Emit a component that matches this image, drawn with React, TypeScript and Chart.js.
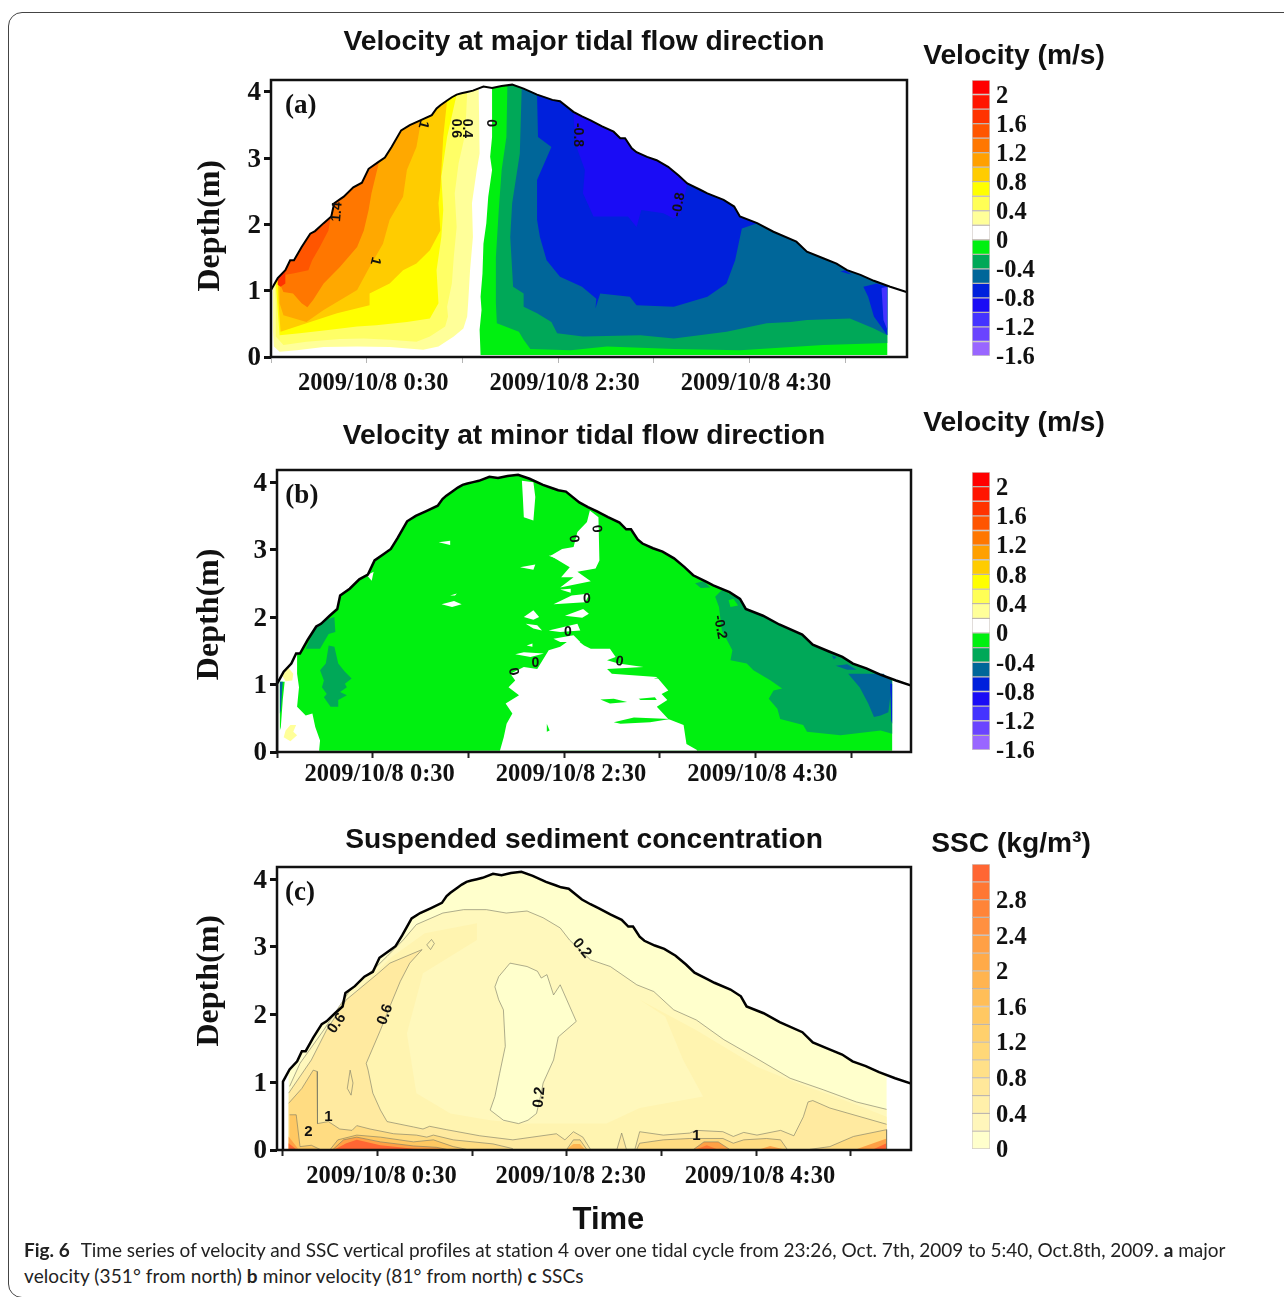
import React, { useEffect, useRef } from "react";
import { Chart, registerables } from "chart.js";

Chart.register(...registerables);

type Pt = [number, number];

// hours since 23:30 / depth in metres
const hourTicks = [0, 1, 2, 3, 4, 5, 6];
const hourLabels = ["", "2009/10/8 0:30", "", "2009/10/8 2:30", "", "2009/10/8 4:30", ""];
const depthTicks = [0, 1, 2, 3, 4];

const waterSurface: Pt[] = [
  [0, 1.01], [0.07, 1.19], [0.15, 1.31], [0.2, 1.46], [0.24, 1.46], [0.32, 1.66], [0.41, 1.86], [0.46, 1.9],
  [0.55, 2.02], [0.63, 2.12], [0.66, 2.32], [0.76, 2.42], [0.86, 2.56], [0.95, 2.63], [1.02, 2.84], [1.12, 2.94],
  [1.19, 3.01], [1.26, 3.17], [1.36, 3.42], [1.45, 3.5], [1.56, 3.57], [1.68, 3.65], [1.73, 3.75], [1.77, 3.8], [1.84, 3.87],
  [1.89, 3.92], [1.94, 3.96], [1.99, 3.98], [2.05, 4.0], [2.11, 4.02], [2.22, 4.08], [2.31, 4.06], [2.41, 4.09], [2.52, 4.11], [2.64, 4.05],
  [2.78, 3.96], [2.88, 3.91], [2.94, 3.88], [3.02, 3.86], [3.16, 3.7], [3.25, 3.63], [3.34, 3.57], [3.46, 3.48], [3.58, 3.4], [3.65, 3.3], [3.7, 3.3],
  [3.77, 3.15], [3.82, 3.09], [3.93, 3.02], [4.03, 2.97], [4.15, 2.87], [4.26, 2.74], [4.35, 2.62], [4.49, 2.52], [4.56, 2.47], [4.73, 2.37], [4.84, 2.27], [4.9, 2.12],
  [5.08, 2.02], [5.25, 1.89], [5.49, 1.74], [5.6, 1.59], [5.77, 1.49], [5.91, 1.41], [6.02, 1.31], [6.16, 1.24], [6.3, 1.15], [6.47, 1.06], [6.64, 0.98],
];

// ---------- panel (a), major velocity: contour band edges under the water surface
const aPos02: Pt[] = [[2.18, 3.07], [2.15, 2.82], [2.1, 2.32], [2.11, 1.81], [2.08, 1.31], [2.06, 0.81], [2.05, 0.61], [2.01, 0.43], [1.91, 0.31], [1.75, 0.16], [1.59, 0.11], [1.24, 0.15], [0.9, 0.16], [0.55, 0.15], [0.27, 0.1], [0.09, 0.08], [0.03, 0.16], [0.02, 0.41]];
const aPos04: Pt[] = [[2.03, 3.37], [1.96, 2.92], [1.92, 2.47], [1.94, 1.96], [1.91, 1.51], [1.89, 1.11], [1.84, 0.76], [1.85, 0.61], [1.82, 0.46], [1.66, 0.31], [1.52, 0.23], [1.24, 0.26], [0.97, 0.28], [0.72, 0.27], [0.37, 0.23], [0.13, 0.18], [0.05, 0.31], [0.05, 0.81]];
const aPos06: Pt[] = [[1.84, 3.32], [1.78, 2.72], [1.8, 2.22], [1.78, 1.81], [1.73, 1.31], [1.75, 0.81], [1.66, 0.58], [1.42, 0.53], [1.1, 0.48], [0.9, 0.46], [0.62, 0.41], [0.3, 0.36], [0.09, 0.33], [0.07, 0.71]];
const aPos08: Pt[] = [[1.8, 3.32], [1.78, 2.82], [1.77, 2.57], [1.75, 2.32], [1.77, 1.91], [1.66, 1.61], [1.52, 1.41], [1.38, 1.31], [1.24, 1.11], [1.03, 0.96], [1.03, 0.78], [0.69, 0.66], [0.37, 0.51], [0.1, 0.38], [0.08, 0.81]];
const aPos10: Pt[] = [[1.52, 3.17], [1.42, 2.82], [1.38, 2.42], [1.24, 2.07], [1.17, 1.71], [1.03, 1.36], [0.9, 1.01], [0.55, 0.71], [0.37, 0.53], [0.13, 0.63], [0.09, 0.81]];
const aPos12: Pt[] = [[1.05, 2.47], [1.02, 2.22], [0.97, 1.91], [0.9, 1.66], [0.72, 1.36], [0.55, 1.11], [0.44, 0.86], [0.38, 0.75], [0.32, 0.81], [0.23, 0.96], [0.13, 0.98], [0.09, 1.11]];
const aPos14: Pt[] = [[0.69, 2.32], [0.63, 2.17], [0.6, 1.91], [0.51, 1.66], [0.43, 1.46], [0.39, 1.31], [0.23, 1.26], [0.15, 1.24]];
const aPos16: Pt[] = [[0.07, 1.19], [0.15, 1.29], [0.15, 1.11], [0.1, 1.06], [0.07, 1.09]];
const aNeg00: Pt[] = [[6.44, 0.03], [2.19, 0.03], [2.18, 0.41], [2.2, 0.71], [2.19, 0.91], [2.21, 1.26], [2.22, 1.71], [2.25, 2.02], [2.27, 2.42], [2.31, 2.82], [2.29, 3.02], [2.31, 3.32]];
const aNeg02: Pt[] = [[6.44, 0.21], [5.77, 0.18], [4.9, 0.1], [4.21, 0.12], [3.51, 0.16], [3.13, 0.1], [2.71, 0.12], [2.64, 0.26], [2.59, 0.38], [2.36, 0.51], [2.35, 0.81], [2.35, 1.51], [2.38, 2.22], [2.41, 2.82], [2.46, 3.32]];
const aNeg04: Pt[] = [[6.44, 0.33], [6.3, 0.43], [6.05, 0.58], [5.6, 0.56], [5.43, 0.53], [5.18, 0.51], [4.76, 0.38], [4.21, 0.28], [3.86, 0.33], [3.26, 0.31], [2.99, 0.36], [2.93, 0.53], [2.78, 0.66], [2.64, 0.76], [2.64, 0.96], [2.53, 1.06], [2.5, 1.81], [2.52, 2.32], [2.6, 3.07]];
const aNeg06: Pt[] = [[4.92, 1.94], [4.85, 1.46], [4.76, 1.11], [4.56, 0.91], [4.21, 0.76], [3.82, 0.78], [3.75, 0.91], [3.44, 0.96], [3.39, 0.73], [3.4, 0.88], [3.25, 1.06], [3.02, 1.21], [2.88, 1.46], [2.81, 1.81], [2.78, 2.07], [2.78, 2.67], [2.93, 3.17], [2.79, 3.32]];
const aNeg08: Pt[] = [[4.28, 2.17], [4.21, 2.09], [4.1, 2.17], [3.87, 2.22], [3.82, 1.96], [3.73, 2.12], [3.37, 2.12], [3.26, 2.47], [3.28, 2.82], [3.18, 3.22]];
const aEndBlue: Pt[] = [[6.19, 1.06], [6.24, 0.91], [6.3, 0.61], [6.44, 0.33], [6.44, 1.06], [6.33, 1.11]];
const aEndPurple: Pt[] = [[6.38, 1.04], [6.44, 1.06], [6.44, 0.41], [6.4, 0.56]];
const aTinyBlue: Pt[] = [[5.95, 1.29], [6.07, 1.24], [6.0, 1.31]];

// ---------- panel (b), minor velocity
const bGreenEdge: Pt[] = [[6.43, 0.02], [0.44, 0.02], [0.45, 0.17], [0.4, 0.37], [0.37, 0.57], [0.3, 0.54], [0.21, 0.67], [0.23, 0.96], [0.21, 1.16]];
const bDarkEdge: Pt[] = [[6.43, 0.27], [6.31, 0.32], [5.89, 0.25], [5.54, 0.3], [5.5, 0.4], [5.26, 0.49], [5.23, 0.64], [5.14, 0.79], [5.19, 0.91], [5.28, 0.94], [5.16, 1.06], [4.98, 1.21], [4.91, 1.31], [4.74, 1.36], [4.76, 1.51], [4.65, 1.8], [4.62, 2.15], [4.58, 2.3], [4.65, 2.4], [4.76, 2.32]];
const bLeftStrip: Pt[] = [[0.03, 1.04], [0.08, 1.04], [0.06, 0.77], [0.04, 0.37], [0.03, 0.32]];
const bLeftBlue: Pt[] = [[0.03, 1.04], [0.06, 1.04], [0.04, 0.62], [0.03, 0.57]];
const bYellowTop: Pt[] = [[0.12, 1.25], [0.17, 1.16], [0.16, 1.06], [0.09, 1.05], [0.05, 1.14]];
const bYellowLow: Pt[] = [[0.14, 0.4], [0.2, 0.4], [0.17, 0.3], [0.21, 0.25], [0.14, 0.16], [0.07, 0.22], [0.09, 0.32]];
const bDarkLeft1: Pt[] = [[0.3, 1.53], [0.4, 1.85], [0.49, 1.95], [0.6, 2.0], [0.61, 1.78], [0.54, 1.75], [0.45, 1.53]];
const bDarkLeft2: Pt[] = [[0.54, 1.58], [0.6, 1.56], [0.64, 1.31], [0.71, 1.19], [0.78, 1.09], [0.71, 1.01], [0.73, 0.96], [0.66, 0.89], [0.73, 0.84], [0.64, 0.77], [0.64, 0.67], [0.56, 0.67], [0.49, 0.81], [0.52, 0.86], [0.47, 0.96], [0.49, 1.06], [0.45, 1.21], [0.51, 1.31]];
const bWhiteWedge: Pt[] = [[2.33, 0.02], [2.37, 0.22], [2.4, 0.42], [2.46, 0.57], [2.39, 0.72], [2.53, 0.84], [2.42, 0.96], [2.49, 1.06], [2.44, 1.16], [2.58, 1.26], [2.72, 1.23], [2.84, 1.51], [2.96, 1.56], [3.1, 1.7], [3.21, 1.58], [3.28, 1.53], [3.48, 1.53], [3.54, 1.41], [3.45, 1.36], [3.57, 1.31], [3.83, 1.26], [3.45, 1.23], [3.5, 1.16], [3.97, 1.11], [4.09, 0.91], [4.02, 0.86], [4.08, 0.77], [3.97, 0.67], [4.09, 0.49], [4.25, 0.4], [4.28, 0.12], [4.39, 0.03], [4.39, 0.02]];
const bWhiteTop: Pt[] = [[2.56, 4.02], [2.68, 4.0], [2.7, 3.78], [2.68, 3.43], [2.58, 3.48], [2.57, 3.77]];
const bWhiteColumn: Pt[] = [[3.27, 3.58], [3.36, 3.48], [3.37, 2.84], [3.33, 2.72], [3.14, 2.67], [3.28, 2.53], [2.96, 2.44], [3.1, 2.59], [2.97, 2.59], [3.06, 2.74], [2.86, 2.91], [2.98, 3.01], [3.1, 3.04], [3.14, 3.26], [3.24, 3.41]];
const bWhiteStreaks: Pt[][] = [
  [[3.08, 2.32], [3.27, 2.35], [3.22, 2.22], [2.89, 2.19]],
  [[3.01, 2.02], [3.2, 2.12], [3.26, 2.05], [3.19, 1.99]],
  [[2.84, 1.8], [3.14, 1.9], [3.17, 1.8], [2.96, 1.78]],
  [[2.89, 1.68], [3.1, 1.73], [3.17, 1.63], [2.96, 1.63]],
  [[2.84, 2.91], [3.07, 2.94], [3.07, 2.79]],
  [[2.54, 2.74], [2.7, 2.78], [2.68, 2.7]],
  [[1.69, 3.11], [1.81, 3.13], [1.81, 3.07]],
  [[1.72, 2.19], [1.85, 2.24], [1.93, 2.19], [1.83, 2.15]],
  [[2.58, 2.0], [2.68, 2.1], [2.74, 2.0], [2.68, 1.96]],
  [[2.6, 1.9], [2.72, 1.88], [2.77, 1.8], [2.68, 1.83]],
  [[2.49, 1.45], [2.58, 1.48], [2.79, 1.46], [2.65, 1.41]],
  [[0.94, 2.62], [1.01, 2.67], [0.99, 2.54]],
  [[2.96, 2.41], [3.07, 2.42], [3.07, 2.36]],
  [[2.61, 1.58], [2.67, 1.61], [2.67, 1.56]],
  [[1.81, 2.32], [1.88, 2.35], [1.86, 2.32]],
];
const bGreenStreaks: Pt[][] = [
  [[3.38, 0.78], [3.52, 0.79], [3.66, 0.74], [3.48, 0.72]],
  [[3.52, 0.44], [3.73, 0.51], [4.11, 0.49], [3.9, 0.44], [3.59, 0.42]],
  [[3.78, 0.79], [3.95, 0.81], [3.97, 0.77], [3.8, 0.77]],
  [[3.94, 1.09], [4.06, 1.14], [4.02, 1.09]],
  [[2.82, 0.42], [2.85, 0.32], [2.82, 0.3]],
  [[4.72, 2.25], [4.77, 2.27], [4.82, 2.17], [4.74, 2.15]],
];
const bDarkSmall: Pt[] = [[4.37, 2.5], [4.46, 2.53], [4.53, 2.44], [4.43, 2.43]];
const bTeal: Pt[] = [[5.97, 1.16], [6.34, 1.16], [6.43, 1.04], [6.39, 0.59], [6.31, 0.54], [6.24, 0.52], [6.18, 0.72], [6.09, 0.96]];
const bTealSmall1: Pt[] = [[5.84, 1.28], [5.96, 1.3], [6.06, 1.22], [5.96, 1.22]];
const bTealSmall2: Pt[] = [[5.8, 1.43], [5.85, 1.41], [5.82, 1.37]];
const bBlueStrip: Pt[] = [[6.41, 1.01], [6.43, 1.01], [6.43, 0.42], [6.42, 0.47]];

// ---------- panel (c), SSC
const cBaseEdge: Pt[] = [[6.38, 0.0], [0.06, 0.0]];
const cLine02: Pt[] = [[0.07, 0.94], [0.18, 1.28], [0.43, 1.77], [0.57, 2.07], [0.71, 2.36], [0.99, 2.71], [1.1, 2.86], [1.27, 3.1], [1.41, 3.33], [1.69, 3.5], [1.91, 3.55], [2.15, 3.55], [2.36, 3.5], [2.58, 3.53], [2.75, 3.43], [2.93, 3.28], [3.03, 3.1], [3.25, 2.81], [3.46, 2.71], [3.74, 2.44], [3.92, 2.34], [4.13, 2.07], [4.37, 1.92], [4.66, 1.63], [5.01, 1.35], [5.36, 1.06], [5.71, 0.89], [6.06, 0.71], [6.38, 0.6]];
const cFill04: Pt[] = [[0.07, 0.79], [0.3, 1.3], [0.55, 1.9], [0.85, 2.45], [1.15, 2.85], [1.5, 3.2], [2.05, 3.35], [2.05, 3.1], [1.48, 2.61], [1.31, 1.72], [1.41, 0.84], [1.77, 0.54], [2.19, 0.44], [2.54, 0.39], [2.72, 0.39], [3.42, 0.39], [3.77, 0.62], [4.44, 0.79], [4.23, 1.33], [4.04, 1.97], [3.77, 2.22], [4.37, 1.77], [5.01, 1.23], [5.43, 0.99], [5.89, 0.76], [6.38, 0.49], [6.38, 0.0], [0.07, 0.0]];
const cLine06: Pt[] = [[0.06, 0.84], [0.3, 1.33], [0.46, 1.77], [0.67, 2.22], [0.99, 2.59], [1.13, 2.76], [1.47, 2.96], [1.34, 2.76], [1.24, 2.49], [1.13, 2.12], [1.03, 1.77], [0.88, 1.28], [0.9, 1.18], [0.95, 0.84], [1.03, 0.59], [1.1, 0.42], [1.38, 0.34], [1.48, 0.31], [1.55, 0.35], [1.73, 0.3], [2.08, 0.21], [2.43, 0.15], [2.89, 0.24], [2.98, 0.15], [3.07, 0.27], [3.17, 0.19], [3.25, 0.01], [3.53, 0.01], [3.58, 0.25], [3.63, 0.01], [3.72, 0.01], [3.77, 0.27], [4.02, 0.22], [4.3, 0.25], [4.37, 0.29], [4.65, 0.27], [4.76, 0.2], [4.87, 0.26], [5.01, 0.22], [5.26, 0.29], [5.4, 0.21], [5.5, 0.49], [5.55, 0.71], [5.6, 0.73], [5.78, 0.62], [6.38, 0.38]];
const cLine10: Pt[] = [[0.06, 0.69], [0.2, 0.91], [0.32, 1.18], [0.36, 1.16], [0.36, 0.84], [0.37, 0.39], [0.48, 0.42], [0.6, 0.31], [0.73, 0.29], [0.78, 0.36], [0.92, 0.31], [1.17, 0.24], [1.41, 0.22], [1.52, 0.19], [1.59, 0.22], [1.8, 0.15], [2.22, 0.09], [2.43, 0.02]];
const cHill1: Pt[] = [[3.0, 0.01], [3.07, 0.15], [3.14, 0.15], [3.21, 0.01]];
const cHill2: Pt[] = [[3.74, 0.01], [3.77, 0.1], [4.02, 0.15], [4.3, 0.17], [4.65, 0.17], [4.76, 0.1], [4.87, 0.15], [5.11, 0.17], [5.26, 0.15], [5.33, 0.01]];
const cHill3: Pt[] = [[5.57, 0.01], [5.78, 0.05], [6.03, 0.2], [6.38, 0.3], [6.38, 0.01]];
const cLine16: Pt[] = [[0.07, 0.52], [0.14, 0.52], [0.18, 0.05], [0.3, 0.07], [0.39, 0.01], [0.07, 0.01]];
const cHot20: Pt[] = [[0.06, 0.2], [0.16, 0.02], [0.06, 0.01]];
const cHot30: Pt[] = [[0.06, 0.1], [0.14, 0.01], [0.06, 0.01]];
const cCore16: Pt[] = [[0.5, 0.01], [0.58, 0.15], [0.78, 0.22], [1.03, 0.19], [1.38, 0.12], [1.59, 0.15], [1.8, 0.05], [1.94, 0.01]];
const cCore22: Pt[] = [[0.53, 0.01], [0.64, 0.15], [0.78, 0.19], [1.03, 0.12], [1.38, 0.06], [1.62, 0.04], [1.73, 0.01]];
const cCore30: Pt[] = [[0.55, 0.01], [0.67, 0.1], [0.78, 0.15], [1.03, 0.07], [1.38, 0.02], [1.48, 0.01]];
const cBump1: Pt[] = [[4.34, 0.01], [4.45, 0.12], [4.6, 0.12], [4.72, 0.01]];
const cBump2: Pt[] = [[4.37, 0.01], [4.48, 0.07], [4.59, 0.01]];
const cBump3: Pt[] = [[5.04, 0.01], [5.15, 0.06], [5.29, 0.01]];
const cBump4: Pt[] = [[3.0, 0.01], [3.07, 0.09], [3.14, 0.09], [3.19, 0.01]];
const cEnd22: Pt[] = [[6.06, 0.01], [6.38, 0.17], [6.38, 0.01]];
const cEnd30: Pt[] = [[6.24, 0.01], [6.38, 0.1], [6.38, 0.01]];
const cIsland: Pt[] = [[2.4, 2.76], [2.58, 2.71], [2.69, 2.64], [2.73, 2.54], [2.79, 2.59], [2.86, 2.29], [2.93, 2.44], [3.1, 1.9], [2.91, 1.67], [2.86, 1.33], [2.75, 0.99], [2.73, 0.84], [2.68, 0.54], [2.59, 0.44], [2.49, 0.39], [2.33, 0.44], [2.19, 0.59], [2.24, 0.79], [2.29, 1.13], [2.35, 1.53], [2.33, 2.07], [2.28, 2.22], [2.24, 2.41], [2.28, 2.56], [2.4, 2.76]];
const cOval1: Pt[] = [[0.71, 1.18], [0.74, 0.99], [0.72, 0.81], [0.68, 0.91], [0.71, 1.18]];
const cOval2: Pt[] = [[1.52, 3.03], [1.57, 3.11], [1.6, 3.05], [1.56, 2.96], [1.52, 3.03]];

// ---------- colour bars
const velocityColors = ["#ff0000", "#ff1500", "#ff3300", "#ff5500", "#ff7700", "#ffa000", "#ffcc00", "#ffff00", "#ffff55", "#ffff99", "#ffffff", "#00f010", "#00a858", "#006699", "#0020dc", "#1a0cf5", "#4433ff", "#6a44ff", "#9966ff"];
const velocityEdges = [2.2, 2, 1.8, 1.6, 1.4, 1.2, 1, 0.8, 0.6, 0.4, 0.2, 0, -0.2, -0.4, -0.6, -0.8, -1, -1.2, -1.4, -1.6];
const velocityTickValues = [2, 1.6, 1.2, 0.8, 0.4, 0, -0.4, -0.8, -1.2, -1.6];
const sscColors = ["#ff6633", "#ff7733", "#ff8438", "#ff9040", "#ffa045", "#ffaa48", "#ffb450", "#ffbe58", "#ffc862", "#ffd06c", "#ffd878", "#ffe088", "#ffe89a", "#fff0aa", "#fff6bb", "#ffffcc"];
const sscEdges = [3.2, 3, 2.8, 2.6, 2.4, 2.2, 2, 1.8, 1.6, 1.4, 1.2, 1, 0.8, 0.6, 0.4, 0.2, 0];
const sscTickValues = [2.8, 2.4, 2, 1.6, 1.2, 0.8, 0.4, 0];

const surfaceAt = (t: number): number => {
  for (let i = 1; i < waterSurface.length; i++) {
    const [t0, d0] = waterSurface[i - 1];
    const [t1, d1] = waterSurface[i];
    if (t <= t1) return d0 + ((d1 - d0) * (t - t0)) / (t1 - t0);
  }
  return waterSurface[waterSurface.length - 1][1];
};
const under = (t0: number, t1: number, edge: Pt[]): Pt[] => [
  [t0, surfaceAt(t0)],
  ...waterSurface.filter(([t]) => t > t0 && t < t1),
  [t1, surfaceAt(t1)],
  ...edge,
];

const SERIF = "'Liberation Serif'";
const SANS = "'Liberation Sans'";

type Label = { t: number; d: number; text: string; rot?: number; font?: string };

const contourFont = `bold 14px ${SANS}`;
const panelLetterFont = `bold 27px ${SERIF}`;
const depthFont = `bold 32px ${SERIF}`;

const aFills: [string, Pt[]][] = [
  ["#ffff99", under(0.02, 2.17, aPos02)],
  ["#ffff66", under(0.04, 2.05, aPos04)],
  ["#ffff00", under(0.05, 1.94, aPos06)],
  ["#ffcc00", under(0.07, 1.84, aPos08)],
  ["#ffa800", under(0.09, 1.57, aPos10)],
  ["#ff7700", under(0.1, 1.13, aPos12)],
  ["#ff5500", under(0.15, 0.85, aPos14)],
  ["#ff3300", aPos16],
  ["#00f010", under(2.31, 6.44, aNeg00)],
  ["#00a858", under(2.47, 6.44, aNeg02)],
  ["#006699", under(2.62, 6.44, aNeg04)],
  ["#0020dc", under(2.78, 5.08, aNeg06)],
  ["#1a0cf5", under(3.16, 4.35, aNeg08)],
  ["#0020dc", aEndBlue],
  ["#4433ff", aEndPurple],
  ["#0020dc", aTinyBlue],
];
const aLabels: Label[] = [
  { t: 0.31, d: 3.79, text: "(a)", font: panelLetterFont },
  { t: -0.627, d: 1.98, text: "Depth(m)", rot: -90, font: depthFont },
  { t: 1.09, d: 1.45, text: "1", rot: 105, font: contourFont },
  { t: 1.59, d: 3.51, text: "1", rot: 105, font: contourFont },
  { t: 0.69, d: 2.19, text: "1.4", rot: -85, font: contourFont },
  { t: 1.93, d: 3.45, text: "0.6", rot: 90, font: contourFont },
  { t: 2.05, d: 3.45, text: "0.4", rot: 90, font: contourFont },
  { t: 2.3, d: 3.53, text: "0", rot: 90, font: contourFont },
  { t: 3.21, d: 3.35, text: "-0.8", rot: 90, font: contourFont },
  { t: 4.26, d: 2.3, text: "-0.8", rot: -80, font: contourFont },
];

const bFills: [string, Pt[]][] = [
  ["#00f010", under(0.21, 6.43, bGreenEdge)],
  ["#00f010", bLeftStrip],
  ["#006699", bLeftBlue],
  ["#ffff99", bYellowTop],
  ["#ffff99", bYellowLow],
  ["#00a858", bDarkLeft1],
  ["#00a858", bDarkLeft2],
  ["#ffffff", bWhiteWedge],
  ["#ffffff", bWhiteTop],
  ["#ffffff", bWhiteColumn],
  ...bWhiteStreaks.map((p): [string, Pt[]] => ["#ffffff", p]),
  ["#00a858", under(4.84, 6.43, bDarkEdge)],
  ...bGreenStreaks.map((p): [string, Pt[]] => ["#00f010", p]),
  ["#00a858", bDarkSmall],
  ["#006699", bTeal],
  ["#006699", bTealSmall1],
  ["#006699", bTealSmall2],
  ["#0020dc", bBlueStrip],
];
const bLabels: Label[] = [
  { t: 0.26, d: 3.79, text: "(b)", font: panelLetterFont },
  { t: -0.7, d: 2.04, text: "Depth(m)", rot: -90, font: depthFont },
  { t: 3.34, d: 3.31, text: "0", rot: 85, font: contourFont },
  { t: 3.1, d: 3.16, text: "0", rot: 85, font: contourFont },
  { t: 3.24, d: 2.27, text: "0", font: contourFont },
  { t: 3.04, d: 1.78, text: "0", font: contourFont },
  { t: 3.58, d: 1.34, text: "0", rot: 10, font: contourFont },
  { t: 2.7, d: 1.31, text: "0", font: contourFont },
  { t: 2.47, d: 1.19, text: "0", rot: 80, font: contourFont },
  { t: 4.63, d: 1.85, text: "-0.2", rot: 80, font: contourFont },
];

const cFills: [string, Pt[]][] = [
  ["#ffffcc", under(0.06, 6.38, cBaseEdge)],
  ["#fff8bc", [...cLine02, [6.38, 0], [0.07, 0]]],
  ["#fff4b0", cFill04],
  ["#ffeaa0", [...cLine06, [6.38, 0], [0.06, 0]]],
  ["#ffdc82", [...cLine10, [0.06, 0]]],
  ["#ffdc82", cHill1],
  ["#ffdc82", cHill2],
  ["#ffdc82", cHill3],
  ["#ffc862", cLine16],
  ["#ffa045", cHot20],
  ["#ff6633", cHot30],
  ["#ffc862", cCore16],
  ["#ffa045", cCore22],
  ["#ff6633", cCore30],
  ["#ffa045", cBump1],
  ["#ff7733", cBump2],
  ["#ffa045", cBump3],
  ["#ffb450", cBump4],
  ["#ffa045", cEnd22],
  ["#ff6633", cEnd30],
  ["#ffffcc", cIsland],
];
const cContours: Pt[][] = [cLine02, cLine06, cLine10, cHill1, cHill2, cHill3, cLine16, cCore16, cCore22, cBump1, cIsland, cOval1, cOval2];
const cLabelFont = `bold 15px ${SANS}`;
const cLabels: Label[] = [
  { t: 0.18, d: 3.79, text: "(c)", font: panelLetterFont },
  { t: -0.77, d: 2.5, text: "Depth(m)", rot: -90, font: depthFont },
  { t: 0.57, d: 1.87, text: "0.6", rot: -55, font: cLabelFont },
  { t: 1.08, d: 2.0, text: "0.6", rot: -70, font: cLabelFont },
  { t: 2.71, d: 0.78, text: "0.2", rot: -85, font: cLabelFont },
  { t: 3.16, d: 2.98, text: "0.2", rot: 50, font: cLabelFont },
  { t: 0.48, d: 0.49, text: "1", font: cLabelFont },
  { t: 0.27, d: 0.27, text: "2", font: cLabelFont },
  { t: 4.37, d: 0.21, text: "1", font: cLabelFont },
  { t: 3.44, d: -1.04, text: "Time", font: `bold 31px ${SANS}` },
];

const toXY = (p: Pt[]) => p.map(([x, y]) => ({ x, y }));

function figureTextPlugin(items: Label[]) {
  return {
    id: "figureText",
    afterDatasetsDraw(chart: any) {
      const { ctx, scales } = chart;
      items.forEach((it) => {
        ctx.save();
        ctx.translate(scales.x.getPixelForValue(it.t), scales.y.getPixelForValue(it.d));
        ctx.rotate(((it.rot || 0) * Math.PI) / 180);
        ctx.font = it.font || contourFont;
        ctx.fillStyle = "#111";
        ctx.textAlign = "center";
        ctx.textBaseline = "middle";
        ctx.fillText(it.text, 0, 0);
        ctx.restore();
      });
    },
  };
}

const framePlugin = {
  id: "frame",
  afterDatasetsDraw(chart: any) {
    const { ctx, chartArea: a } = chart;
    ctx.save();
    ctx.strokeStyle = "#111";
    ctx.lineWidth = 2.5;
    ctx.strokeRect(a.left, a.top, a.right - a.left, a.bottom - a.top);
    ctx.restore();
  },
};

type PanelSpec = {
  title: string;
  canvasTop: number;
  titlePad: number;
  frameLeft: number;
  frameRight: number;
  frameBottom: number;
  frameTop: number;
  axisBelow: number;
  xMin: number;
  xMax: number;
  labelOffset: number;
  labelPad: number;
  tickColor: string;
  tickWidth: number;
  lineWidth: number;
  fills: [string, Pt[]][];
  contours: Pt[][];
  labels: Label[];
};

const CANVAS_LEFT = 190;
const CANVAS_RIGHT = 978;
const DEPTH_MAX = 4.18;

const panels: PanelSpec[] = [
  { title: "Velocity at major tidal flow direction", canvasTop: 25, titlePad: 20, frameLeft: 271, frameRight: 907, frameTop: 80, frameBottom: 357, axisBelow: 40, xMin: 0, xMax: 6.646, labelOffset: 6.5, labelPad: 6, tickColor: "#b5b5b5", tickWidth: 1, lineWidth: 2, fills: aFills, contours: [], labels: aLabels },
  { title: "Velocity at minor tidal flow direction", canvasTop: 419, titlePad: 16, frameLeft: 277, frameRight: 911, frameTop: 470, frameBottom: 752, axisBelow: 40, xMin: 0, xMax: 6.627, labelOffset: 7, labelPad: 2, tickColor: "#222", tickWidth: 2, lineWidth: 2.5, fills: bFills, contours: [], labels: bLabels },
  { title: "Suspended sediment concentration", canvasTop: 823, titlePad: 9, frameLeft: 277, frameRight: 911, frameTop: 867, frameBottom: 1150, axisBelow: 90, xMin: -0.063, xMax: 6.638, labelOffset: 4, labelPad: 6, tickColor: "#222", tickWidth: 2, lineWidth: 2.5, fills: cFills, contours: cContours, labels: cLabels },
];

type BarSpec = {
  title: string;
  left: number;
  top: number;
  titlePad: number;
  barTop: number;
  barBottom: number;
  colors: string[];
  edges: number[];
  ticks: number[];
};

const colorBars: BarSpec[] = [
  { title: "Velocity (m/s)", left: 918, top: 39, titlePad: 6, barTop: 80, barBottom: 356, colors: velocityColors, edges: velocityEdges, ticks: velocityTickValues },
  { title: "Velocity (m/s)", left: 918, top: 406, titlePad: 31, barTop: 472, barBottom: 750, colors: velocityColors, edges: velocityEdges, ticks: velocityTickValues },
  { title: "SSC (kg/m³)", left: 912, top: 827, titlePad: 2, barTop: 864, barBottom: 1149, colors: sscColors, edges: sscEdges, ticks: sscTickValues },
];

const BAR_BOTTOM_ROOM = 24;

function panelChart(canvas: HTMLCanvasElement, p: PanelSpec) {
  const fillSets = p.fills.map(([color, pts]) => ({
    data: toXY(pts),
    backgroundColor: color,
    borderWidth: 0,
    pointRadius: 0,
    fill: "shape",
    showLine: true,
  }));
  const contourSets = p.contours.map((pts) => ({
    data: toXY(pts),
    borderColor: "rgba(120,120,100,0.6)",
    borderWidth: 1,
    pointRadius: 0,
    fill: false,
  }));
  const surfaceSet = {
    data: toXY([[0, 0], ...waterSurface]),
    borderColor: "#000",
    borderWidth: p.lineWidth,
    pointRadius: 0,
    fill: false,
  };
  const datasets = [...fillSets, ...contourSets, surfaceSet].map((d, i) => ({ ...d, order: -i }));
  return new Chart(canvas, {
    type: "line",
    data: { datasets } as any,
    plugins: [framePlugin, figureTextPlugin(p.labels)],
    options: {
      animation: false,
      responsive: false,
      events: [],
      layout: { padding: 0 },
      plugins: {
        legend: { display: false },
        tooltip: { enabled: false },
        title: {
          display: true,
          text: p.title,
          color: "#111",
          font: { family: SANS, size: 28.2, weight: "bold", lineHeight: 35 / 28.2 },
          padding: { top: 0, bottom: p.titlePad },
        },
      },
      scales: {
        x: {
          type: "linear",
          min: p.xMin,
          max: p.xMax,
          afterBuildTicks: (s: any) => { s.ticks = hourTicks.map((value) => ({ value })); },
          afterFit: (s: any) => { s.height = p.axisBelow; },
          grid: { drawOnChartArea: false, drawTicks: true, tickLength: 6, tickColor: p.tickColor, tickWidth: p.tickWidth },
          border: { display: false },
          ticks: {
            autoSkip: false,
            maxRotation: 0,
            minRotation: 0,
            labelOffset: p.labelOffset,
            padding: p.labelPad,
            color: "#111",
            font: { family: SERIF, size: 24.5, weight: "bold" },
            callback: (_v: any, i: number) => hourLabels[i],
          },
        },
        y: {
          type: "linear",
          min: 0,
          max: DEPTH_MAX,
          afterBuildTicks: (s: any) => { s.ticks = depthTicks.map((value) => ({ value })); },
          afterFit: (s: any) => { s.width = p.frameLeft - CANVAS_LEFT; },
          grid: { drawOnChartArea: false, drawTicks: true, tickLength: 7, tickColor: "#111", tickWidth: 3 },
          border: { display: false },
          ticks: { padding: 3, labelOffset: 1.5, color: "#111", font: { family: SERIF, size: 27, weight: "bold" }, callback: (v: any) => String(v) },
        },
        spacer: {
          type: "linear",
          position: "right",
          display: true,
          afterFit: (s: any) => { s.width = CANVAS_RIGHT - p.frameRight; },
          grid: { display: false },
          border: { display: false },
          ticks: { display: false },
        },
      },
    } as any,
  });
}

function barChart(canvas: HTMLCanvasElement, b: BarSpec) {
  const datasets = b.colors.map((color, i) => ({
    data: [[b.edges[i + 1], b.edges[i]]],
    backgroundColor: color,
    borderColor: "rgba(70,50,30,0.25)",
    borderWidth: 1,
    borderSkipped: false,
    barPercentage: 1,
    categoryPercentage: 1,
    grouped: false,
  }));
  return new Chart(canvas, {
    type: "bar",
    data: { labels: [""], datasets } as any,
    options: {
      animation: false,
      responsive: false,
      events: [],
      layout: { padding: { bottom: BAR_BOTTOM_ROOM } },
      plugins: {
        legend: { display: false },
        tooltip: { enabled: false },
        title: {
          display: true,
          text: b.title,
          color: "#111",
          font: { family: SANS, size: 28.2, weight: "bold", lineHeight: 35 / 28.2 },
          padding: { top: 0, bottom: b.titlePad },
        },
      },
      scales: {
        x: { display: false },
        y: {
          position: "right",
          min: b.edges[b.edges.length - 1],
          max: b.edges[0],
          afterBuildTicks: (s: any) => { s.ticks = b.ticks.map((value) => ({ value })); },
          afterFit: (s: any) => { s.width = 1110 - 990; },
          grid: { display: false, drawTicks: false },
          border: { display: false },
          ticks: { autoSkip: false, padding: 6, labelOffset: 2, color: "#111", font: { family: SERIF, size: 24.5, weight: "bold" }, callback: (v: any) => String(v) },
        },
        spacer: {
          type: "linear",
          position: "left",
          display: true,
          afterFit: (s: any) => { s.width = 972 - b.left; },
          grid: { display: false },
          border: { display: false },
          ticks: { display: false },
        },
      },
    } as any,
  });
}

const captionFont: React.CSSProperties = {
  position: "absolute",
  left: 24,
  whiteSpace: "nowrap",
  fontFamily: "Lato, sans-serif",
  fontSize: 19,
  lineHeight: "24px",
  color: "#222",
};

export default function App() {
  const panelRefs = useRef<(HTMLCanvasElement | null)[]>([]);
  const barRefs = useRef<(HTMLCanvasElement | null)[]>([]);
  useEffect(() => {
    const charts = [
      ...panels.map((p, i) => panelChart(panelRefs.current[i]!, p)),
      ...colorBars.map((b, i) => barChart(barRefs.current[i]!, b)),
    ];
    return () => charts.forEach((c) => c.destroy());
  }, []);
  return (
    <div style={{ position: "absolute", left: 0, top: 0, width: 1284, height: 1297, overflow: "hidden", background: "#fff" }}>
      <div style={{ position: "absolute", left: 8, top: 12, width: 1320, height: 1286, border: "1px solid #444", borderRadius: 14, boxSizing: "border-box" }} />
      {panels.map((p, i) => (
        <canvas
          key={p.title}
          ref={(el) => { panelRefs.current[i] = el; }}
          width={CANVAS_RIGHT - CANVAS_LEFT}
          height={p.frameBottom + p.axisBelow - p.canvasTop}
          style={{ position: "absolute", left: CANVAS_LEFT, top: p.canvasTop, display: "block" }}
        />
      ))}
      {colorBars.map((b, i) => (
        <canvas
          key={i}
          ref={(el) => { barRefs.current[i] = el; }}
          width={1110 - b.left}
          height={b.barBottom + BAR_BOTTOM_ROOM - b.top}
          style={{ position: "absolute", left: b.left, top: b.top, display: "block" }}
        />
      ))}
      <div style={{ ...captionFont, top: 1238, letterSpacing: -0.015 }}>
        <b style={{ marginRight: 11 }}>Fig. 6</b>Time series of velocity and SSC vertical profiles at station 4 over one tidal cycle from 23:26, Oct. 7th, 2009 to 5:40, Oct.8th, 2009. <b>a</b> major
      </div>
      <div style={{ ...captionFont, top: 1264, letterSpacing: 0.1 }}>
        velocity (351° from north) <b>b</b> minor velocity (81° from north) <b>c</b> SSCs
      </div>
    </div>
  );
}
